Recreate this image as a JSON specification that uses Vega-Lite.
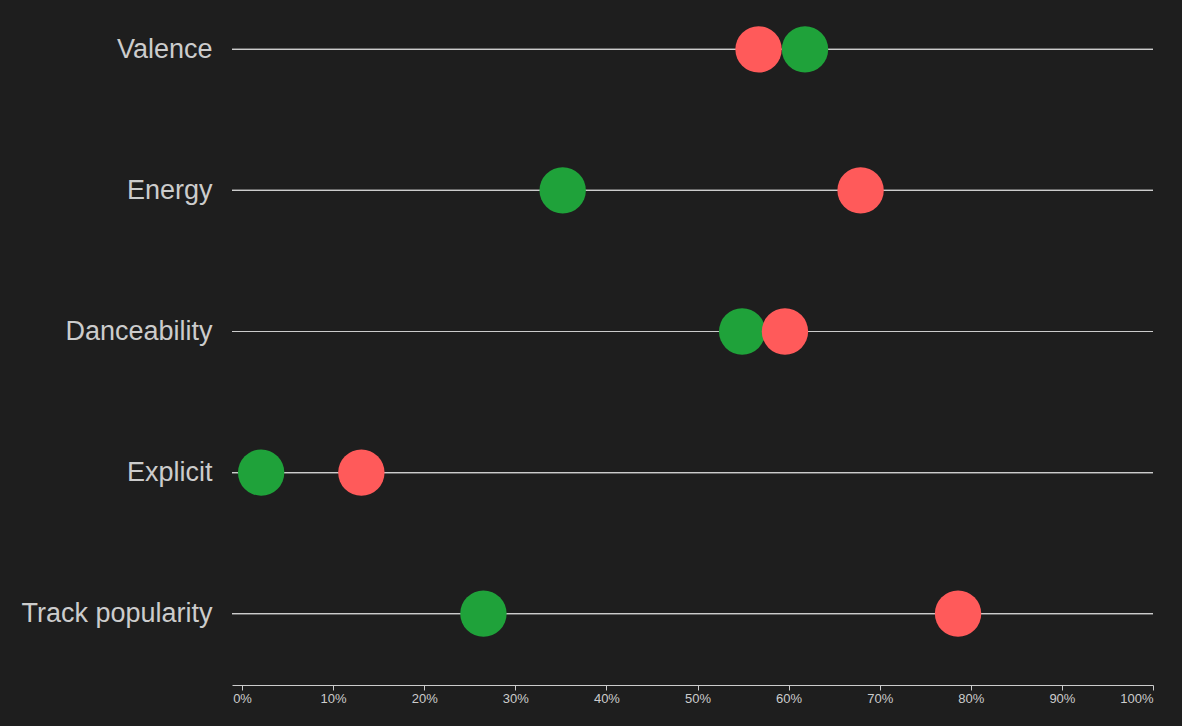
{
  "$schema": "https://vega.github.io/schema/vega-lite/v6.json",
  "width": 921,
  "height": 663,
  "autosize": "none",
  "padding": {"left": 232, "top": 0, "right": 29, "bottom": 63},
  "background": "#1e1e1e",
  "config": {"view": {"stroke": null}, "font": "Liberation Sans"},
  "data": {"values": [
    {"feature": "Valence", "group": "green", "value": 0.618},
    {"feature": "Valence", "group": "red", "value": 0.567},
    {"feature": "Energy", "group": "green", "value": 0.352},
    {"feature": "Energy", "group": "red", "value": 0.679},
    {"feature": "Danceability", "group": "green", "value": 0.549},
    {"feature": "Danceability", "group": "red", "value": 0.596},
    {"feature": "Explicit", "group": "green", "value": 0.021},
    {"feature": "Explicit", "group": "red", "value": 0.131},
    {"feature": "Track popularity", "group": "green", "value": 0.265},
    {"feature": "Track popularity", "group": "red", "value": 0.786}
  ]},
  "encoding": {
    "y": {
      "field": "feature", "type": "nominal", "sort": null,
      "scale": {"type": "point", "padding": 0.35},
      "axis": {"title": null, "domain": false, "ticks": false, "labelFontSize": 27, "labelColor": "#cccccc", "labelPadding": 20, "labelFont": "Liberation Sans", "labelLimit": 300}
    }
  },
  "layer": [
    {
      "mark": {"type": "rule", "color": "#cccccc", "strokeWidth": 1.2},
      "encoding": {}
    },
    {
      "mark": {"type": "circle", "opacity": 1, "size": 2150},
      "encoding": {
        "x": {
          "field": "value", "type": "quantitative",
          "scale": {"domain": [-0.011, 1], "nice": false, "zero": false},
          "axis": {"title": null, "format": ".0%", "values": [0, 0.1, 0.2, 0.3, 0.4, 0.5, 0.6, 0.7, 0.8, 0.9, 1], "grid": false, "offset": 22, "domainColor": "#cccccc", "tickColor": "#cccccc", "tickSize": 5, "labelColor": "#cccccc", "labelFontSize": 13}
        },
        "color": {
          "field": "group", "type": "nominal", "legend": null,
          "scale": {"domain": ["green", "red"], "range": ["#1fa23a", "#ff5a5a"]}
        }
      }
    }
  ]
}
